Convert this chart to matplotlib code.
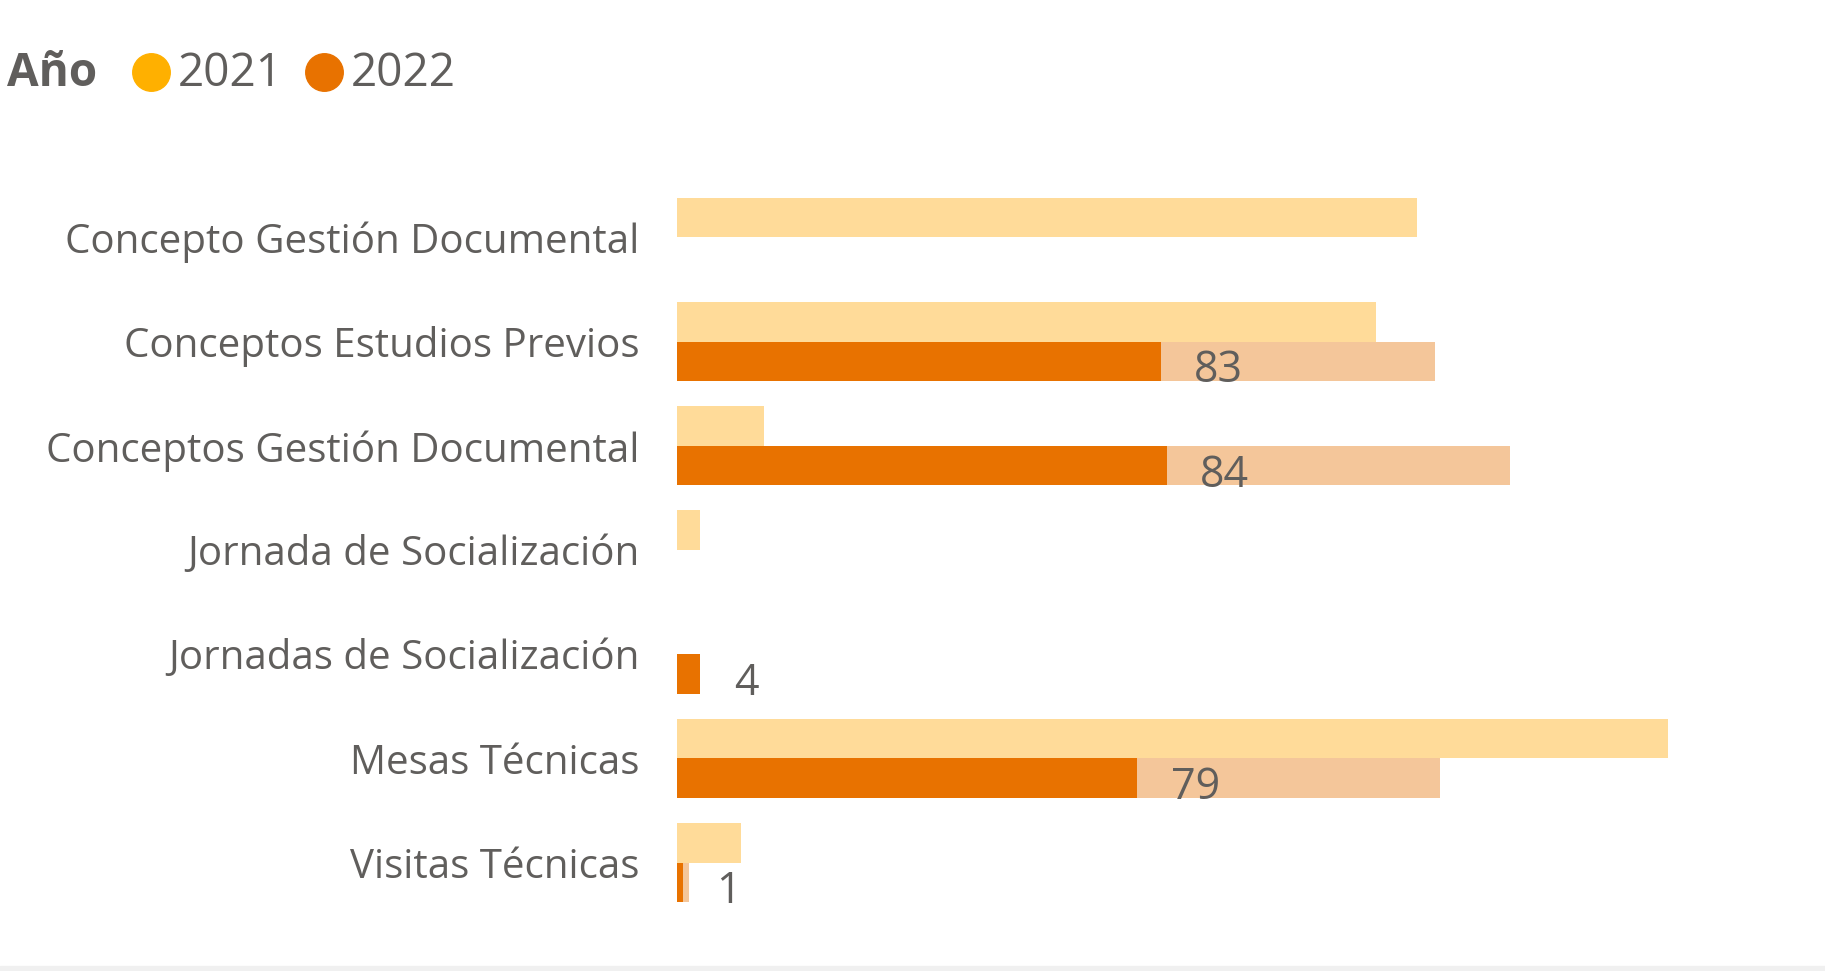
import matplotlib.pyplot as plt
from matplotlib.lines import Line2D
from matplotlib.patches import Rectangle

categorias = ['Concepto Gestión Documental', 'Conceptos Estudios Previos',
              'Conceptos Gestión Documental', 'Jornada de Socialización',
              'Jornadas de Socialización', 'Mesas Técnicas', 'Visitas Técnicas']
valores_2021 = [127, 120, 15, 4, 0, 170, 11]
total_2022 = [0, 130, 143, 0, 4, 131, 2]
resaltado_2022 = [0, 83, 84, 0, 4, 79, 1]
etiquetas_2022 = ['', '83', '84', '', '4', '79', '1']

gris = '#605E5C'
c2021, c2021_claro = '#FFB000', '#FFDB99'
c2022, c2022_claro = '#E87200', '#F4C69A'
plt.rcParams['font.family'] = ['Open Sans', 'DejaVu Sans']

fig = plt.figure(figsize=(18.25, 9.71), dpi=100)
ax = fig.add_axes([677 / 1825, 1 - 914.6 / 971, 1119 / 1825, (914.6 - 185.3) / 971])

h = 0.38
pos = list(range(len(categorias)))
ax.barh([p - h / 2 for p in pos], valores_2021, height=h, color=c2021_claro)
ax.barh([p + h / 2 for p in pos], total_2022, height=h, color=c2022_claro)
ax.barh([p + h / 2 for p in pos], resaltado_2022, height=h, color=c2022)

for p, v, t in zip(pos, resaltado_2022, etiquetas_2022):
    if t:
        ax.annotate(t, (v, p + h / 2), xytext=(24, -7), textcoords='offset points',
                    va='center', ha='left', fontsize=31, color=gris)

ax.set_xlim(0, 192)
ax.set_ylim(6.5, -0.5)
ax.set_yticks(pos)
ax.set_yticklabels(categorias, fontsize=29, color=gris)
ax.tick_params(axis='y', length=0, pad=27)
ax.set_xticks([])
for s in ax.spines.values():
    s.set_visible(False)

# leyenda
fig.text(7 / 1825, 1 - 74 / 971, 'Año', fontsize=33, fontweight='bold', color=gris, va='center')
for cx, tx, col, txt in [(151, 178, c2021, '2021'), (324, 351, c2022, '2022')]:
    fig.add_artist(Line2D([cx / 1825], [1 - 72 / 971], marker='o', ms=27, color=col,
                          transform=fig.transFigure))
    fig.text(tx / 1825, 1 - 74 / 971, txt, fontsize=33, color=gris, va='center')

fig.add_artist(Rectangle((0, 0), 1, 5 / 971, transform=fig.transFigure, color='#F0F0F0'))

fig.savefig('out.png', dpi=100)
